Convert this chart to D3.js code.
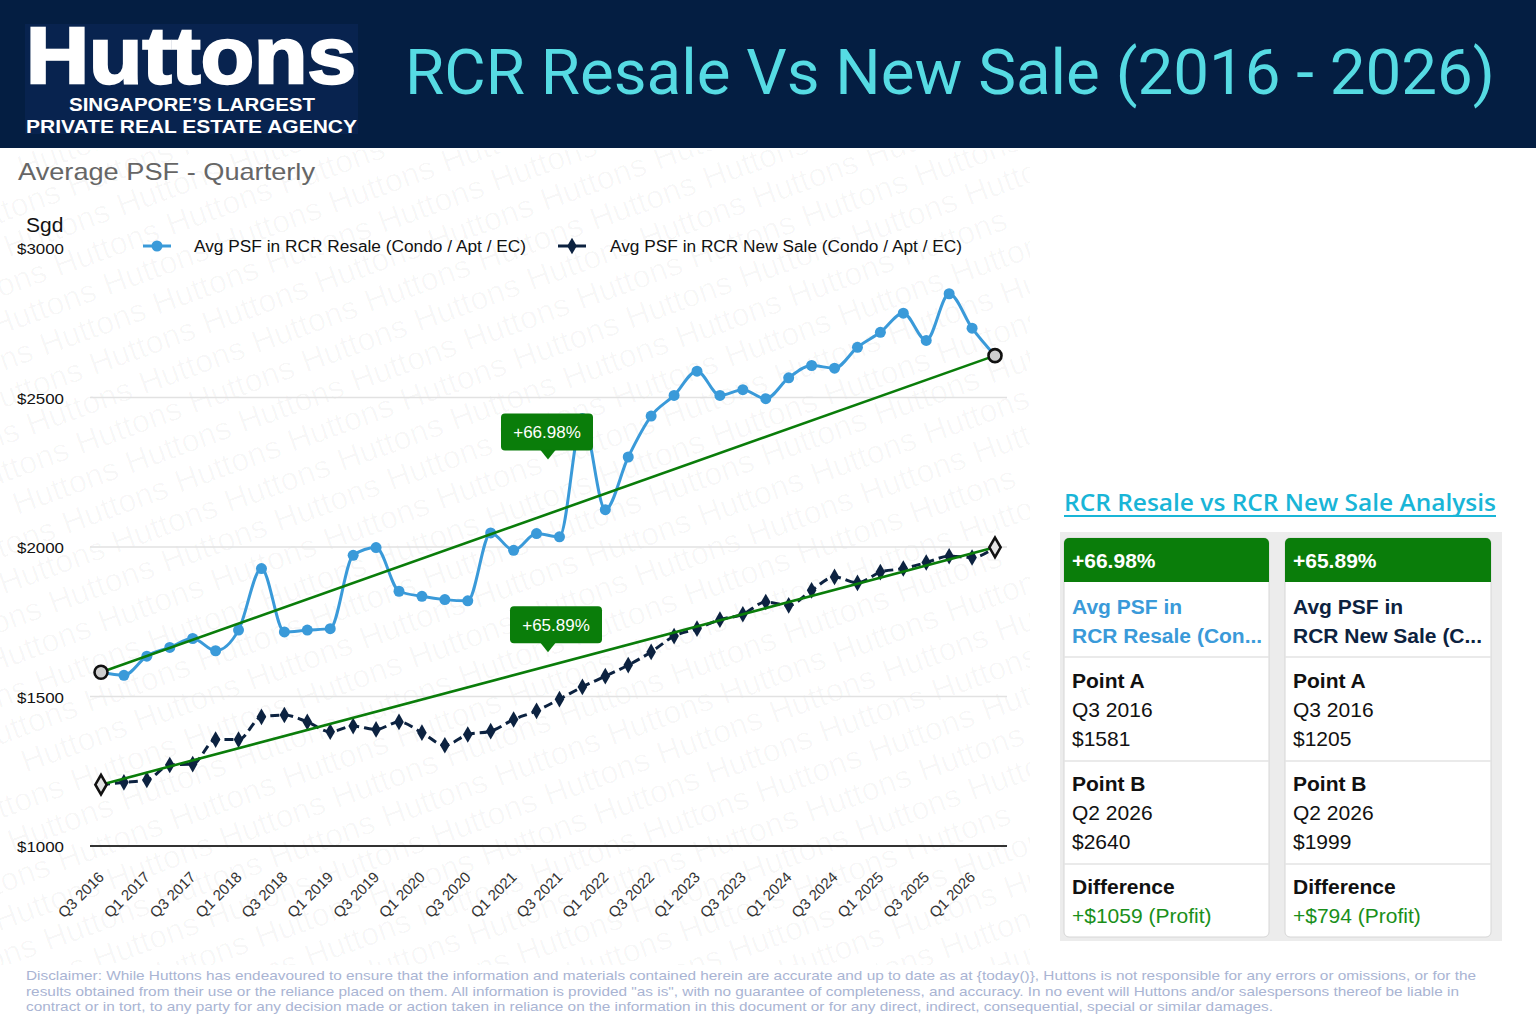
<!DOCTYPE html>
<html>
<head>
<meta charset="utf-8">
<script src="https://cdn.jsdelivr.net/npm/d3@7"></script>
<style>
  body { margin: 0; background: #fff; }
  svg { display: block; }
</style>
</head>
<body>
<svg id="chart" width="1536" height="1024"></svg>
<script>
// données du graphique
const quarters = [
  "Q3 2016","Q4 2016","Q1 2017","Q2 2017","Q3 2017","Q4 2017","Q1 2018","Q2 2018",
  "Q3 2018","Q4 2018","Q1 2019","Q2 2019","Q3 2019","Q4 2019","Q1 2020","Q2 2020",
  "Q3 2020","Q4 2020","Q1 2021","Q2 2021","Q3 2021","Q4 2021","Q1 2022","Q2 2022",
  "Q3 2022","Q4 2022","Q1 2023","Q2 2023","Q3 2023","Q4 2023","Q1 2024","Q2 2024",
  "Q3 2024","Q4 2024","Q1 2025","Q2 2025","Q3 2025","Q4 2025","Q1 2026","Q2 2026"
];
const tickLabels = [
  "Q3 2016","Q1 2017","Q3 2017","Q1 2018","Q3 2018","Q1 2019","Q3 2019","Q1 2020",
  "Q3 2020","Q1 2021","Q3 2021","Q1 2022","Q3 2022","Q1 2023","Q3 2023","Q1 2024",
  "Q3 2024","Q1 2025","Q3 2025","Q1 2026"
];
const resale = [
  1581,1571,1635,1664,1694,1653,1722,1928,1716,1722,1727,1972,1998,1852,1835,1824,
  1820,2047,1989,2045,2034,2430,2125,2301,2438,2507,2588,2507,2526,2496,2566,2607,
  2598,2668,2718,2782,2691,2847,2732,2640
];
const newSale = [
  1205,1213,1221,1271,1274,1356,1356,1432,1438,1415,1382,1401,1390,1415,1379,1337,
  1373,1384,1423,1452,1491,1532,1568,1605,1649,1702,1727,1757,1775,1816,1805,1855,
  1900,1880,1916,1928,1948,1969,1965,1999
];
const yTicks = [1000, 1500, 2000, 2500, 3000];
const seriesNames = [
  "Avg PSF in RCR Resale (Condo / Apt / EC)",
  "Avg PSF in RCR New Sale (Condo / Apt / EC)"
];
const cardTitles = [["Avg PSF in", "RCR Resale (Con..."], ["Avg PSF in", "RCR New Sale (C..."]];

const disclaimer = [
  "Disclaimer: While Huttons has endeavoured to ensure that the information and materials contained herein are accurate and up to date as at {today()}, Huttons is not responsible for any errors or omissions, or for the",
  "results obtained from their use or the reliance placed on them. All information is provided \"as is\", with no guarantee of completeness, and accuracy. In no event will Huttons and/or salespersons thereof be liable in",
  "contract or in tort, to any party for any decision made or action taken in reliance on the information in this document or for any direct, indirect, consequential, special or similar damages."
];

// couleurs
const cResale = "#3a9ad9";
const cNew = "#0c2240";
const cGreen = "#0a7d0a";
const font = "'Liberation Sans', Arial, Helvetica, sans-serif";

const svg = d3.select("#chart");

// ajuste un texte à une largeur donnée
function fit(sel, w) {
  sel.attr("textLength", w).attr("lengthAdjust", "spacingAndGlyphs");
  return sel;
}

svg.append("rect").attr("width", 1536).attr("height", 1024).attr("fill", "#fff");

// filigrane "Huttons" (on ne garde que les mots qui touchent la zone visible)
const zone = { x0: 0, y0: 150, x1: 1030, y1: 965 };
const ang = -20 * Math.PI / 180;
function rot(px, py) {
  return [px * Math.cos(ang) - py * Math.sin(ang), px * Math.sin(ang) + py * Math.cos(ang)];
}
const clip = svg.append("clipPath").attr("id", "wm");
clip.append("rect").attr("x", zone.x0).attr("y", zone.y0)
  .attr("width", zone.x1 - zone.x0).attr("height", zone.y1 - zone.y0);
const wm = svg.append("g").attr("clip-path", "url(#wm)")
  .append("g").attr("transform", "rotate(-20)");
for (let r = -10; r < 40; r++) {
  for (let c = -6; c < 14; c++) {
    const px = c * 120 + (r % 3) * 40;
    const py = r * 35;
    const pts = [rot(px, py - 24), rot(px + 112, py - 24), rot(px, py + 7), rot(px + 112, py + 7)];
    const xs = pts.map(function(p) { return p[0]; });
    const ys = pts.map(function(p) { return p[1]; });
    if (d3.max(xs) < zone.x0 + 25 || d3.min(xs) > zone.x1 - 25 ||
        d3.max(ys) < zone.y0 + 12 || d3.min(ys) > zone.y1 - 12) continue;
    wm.append("text")
      .attr("x", px)
      .attr("y", py)
      .attr("font-family", font)
      .attr("font-size", 32)
      .attr("fill", "#000")
      .attr("fill-opacity", 0.03)
      .text("Huttons");
  }
}

// bandeau d'en-tête
svg.append("rect").attr("width", 1536).attr("height", 148).attr("fill", "#041e42");
svg.append("rect").attr("x", 25).attr("y", 24).attr("width", 333).attr("height", 110).attr("fill", "#08234f");
fit(svg.append("text").attr("x", 26).attr("y", 83)
  .attr("font-family", font).attr("font-weight", "bold").attr("font-size", 80)
  .attr("fill", "#fff").attr("stroke", "#fff").attr("stroke-width", 2.5)
  .text("Huttons"), 330);
fit(svg.append("text").attr("x", 69).attr("y", 111)
  .attr("font-family", font).attr("font-weight", "bold").attr("font-size", 19)
  .attr("fill", "#fff").text("SINGAPORE\u2019S LARGEST"), 246);
fit(svg.append("text").attr("x", 26).attr("y", 133)
  .attr("font-family", font).attr("font-weight", "bold").attr("font-size", 19)
  .attr("fill", "#fff").text("PRIVATE REAL ESTATE AGENCY"), 331);
fit(svg.append("text").attr("x", 405).attr("y", 94)
  .attr("font-family", "Roboto, sans-serif").attr("font-size", 63)
  .attr("fill", "#56dbe3").text("RCR Resale Vs New Sale (2016 - 2026)"), 1090);

// sous-titre et unité
fit(svg.append("text").attr("x", 18).attr("y", 180)
  .attr("font-family", font).attr("font-size", 24).attr("fill", "#666")
  .text("Average PSF - Quarterly"), 297);
svg.append("text").attr("x", 26).attr("y", 232)
  .attr("font-family", font).attr("font-size", 21).attr("fill", "#111").text("Sgd");

// échelles
const x = d3.scalePoint().domain(d3.range(quarters.length)).range([101, 995]);
const y = d3.scaleLinear().domain([1000, 3000]).range([846, 248]);

// grille et axe y
const grid = svg.append("g");
yTicks.forEach(function(t) {
  if (t !== 3000) {
    grid.append("line")
      .attr("x1", 90).attr("x2", 1007)
      .attr("y1", y(t)).attr("y2", y(t))
      .attr("stroke", t === 1000 ? "#333" : "#e2e2e2")
      .attr("stroke-width", t === 1000 ? 2 : 1.5);
  }
  fit(grid.append("text").attr("x", 17).attr("y", y(t) + 6)
    .attr("font-family", font).attr("font-size", 15).attr("fill", "#111")
    .text("$" + t), 47);
});

// axe x (étiquettes inclinées)
const xAxis = svg.append("g");
tickLabels.forEach(function(lbl) {
  const i = quarters.indexOf(lbl);
  xAxis.append("text")
    .attr("transform", "translate(" + (x(i) + 4) + ",878) rotate(-45)")
    .attr("text-anchor", "end")
    .attr("font-family", font).attr("font-size", 15).attr("fill", "#333")
    .text(lbl);
});

// courbes
const line = d3.line()
  .x(function(d, i) { return x(i); })
  .y(function(d) { return y(d); })
  .curve(d3.curveMonotoneX);

svg.append("path").datum(resale)
  .attr("d", line).attr("fill", "none")
  .attr("stroke", cResale).attr("stroke-width", 3);
svg.append("path").datum(newSale)
  .attr("d", line).attr("fill", "none")
  .attr("stroke", cNew).attr("stroke-width", 3).attr("stroke-dasharray", "9,5");

svg.append("g").selectAll("circle").data(resale).join("circle")
  .attr("cx", function(d, i) { return x(i); })
  .attr("cy", function(d) { return y(d); })
  .attr("r", 5.5).attr("fill", cResale);

const diamond = d3.symbol().type(d3.symbolDiamond).size(80);
svg.append("g").selectAll("path").data(newSale).join("path")
  .attr("d", diamond)
  .attr("transform", function(d, i) { return "translate(" + x(i) + "," + y(d) + ")"; })
  .attr("fill", cNew);

// droites de tendance entre point A et point B
const last = quarters.length - 1;
[resale, newSale].forEach(function(s) {
  svg.append("line")
    .attr("x1", x(0)).attr("y1", y(s[0]))
    .attr("x2", x(last)).attr("y2", y(s[last]))
    .attr("stroke", cGreen).attr("stroke-width", 2.6);
});

// marqueurs des points A et B
[0, last].forEach(function(i) {
  svg.append("circle").attr("cx", x(i)).attr("cy", y(resale[i]))
    .attr("r", 6.5).attr("fill", "#cfcfcf").attr("stroke", "#111").attr("stroke-width", 2.6);
  svg.append("path").attr("d", d3.symbol().type(d3.symbolDiamond).size(110))
    .attr("transform", "translate(" + x(i) + "," + y(newSale[i]) + ")")
    .attr("fill", "#e4e4e4").attr("stroke", "#111").attr("stroke-width", 2.6);
});

// pourcentages
function pct(s) { return (s[last] - s[0]) / s[0] * 100; }
const pcts = [pct(resale), pct(newSale)];

// étiquettes vertes sur le graphique
const labelTips = [2293, 1648];
const labelShift = [-1, 8];
pcts.forEach(function(p, k) {
  const tx = (x(19) + x(20)) / 2;
  const ty = y(labelTips[k]);
  const cx = tx + labelShift[k];
  const g = svg.append("g");
  g.append("rect").attr("x", cx - 46).attr("y", ty - 46).attr("width", 92).attr("height", 37)
    .attr("rx", 4).attr("fill", cGreen);
  g.append("path")
    .attr("d", "M" + (tx - 8) + "," + (ty - 10) + "L" + tx + "," + ty + "L" + (tx + 8) + "," + (ty - 10) + "Z")
    .attr("fill", cGreen);
  g.append("text").attr("x", cx).attr("y", ty - 21).attr("text-anchor", "middle")
    .attr("font-family", font).attr("font-size", 17).attr("fill", "#fff")
    .text("+" + p.toFixed(2) + "%");
});

// légende
const leg = svg.append("g");
[[143, 194, 332], [558, 610, 352]].forEach(function(pos, k) {
  leg.append("line").attr("x1", pos[0]).attr("x2", pos[0] + 28)
    .attr("y1", 246).attr("y2", 246)
    .attr("stroke", k === 0 ? cResale : cNew).attr("stroke-width", 3);
  if (k === 0) {
    leg.append("circle").attr("cx", pos[0] + 14).attr("cy", 246).attr("r", 5.5).attr("fill", cResale);
  } else {
    leg.append("path").attr("d", diamond)
      .attr("transform", "translate(" + (pos[0] + 14) + ",246)").attr("fill", cNew);
  }
  fit(leg.append("text").attr("x", pos[1]).attr("y", 252)
    .attr("font-family", font).attr("font-size", 16).attr("fill", "#111")
    .text(seriesNames[k]), pos[2]);
});

// panneau d'analyse à droite
const panel = svg.append("g");
fit(panel.append("text").attr("x", 1064).attr("y", 511)
  .attr("font-family", "'Open Sans', 'Noto Sans', sans-serif").attr("font-weight", 600)
  .attr("font-size", 24).attr("fill", "#19b5d7")
  .text("RCR Resale vs RCR New Sale Analysis"), 432);
panel.append("rect").attr("x", 1064).attr("y", 515).attr("width", 432).attr("height", 2).attr("fill", "#19b5d7");

panel.append("rect").attr("x", 1060).attr("y", 532).attr("width", 442).attr("height", 409).attr("fill", "#ececec");

const series = [resale, newSale];
const cardX = [1064, 1285];
const cardW = [205, 206];
series.forEach(function(s, k) {
  const cx = cardX[k];
  const w = cardW[k];
  const g = panel.append("g");
  g.append("rect").attr("x", cx).attr("y", 538).attr("width", w).attr("height", 399)
    .attr("rx", 5).attr("fill", "#fff").attr("stroke", "#d6d6d6");
  g.append("path")
    .attr("d", "M" + cx + ",582V543a5,5 0 0 1 5,-5H" + (cx + w - 5) + "a5,5 0 0 1 5,5V582Z")
    .attr("fill", cGreen);
  [657, 761, 864].forEach(function(yy) {
    g.append("line").attr("x1", cx).attr("x2", cx + w).attr("y1", yy).attr("y2", yy)
      .attr("stroke", "#e3e3e3").attr("stroke-width", 1.5);
  });
  const tx = cx + 8;
  function txt(yy, str, weight, color) {
    return g.append("text").attr("x", tx).attr("y", yy)
      .attr("font-family", font).attr("font-size", 21)
      .attr("font-weight", weight).attr("fill", color).text(str);
  }
  txt(568, "+" + pcts[k].toFixed(2) + "%", "bold", "#fff");
  txt(614, cardTitles[k][0], "bold", k === 0 ? cResale : cNew);
  txt(643, cardTitles[k][1], "bold", k === 0 ? cResale : cNew);
  txt(688, "Point A", "bold", "#111");
  txt(717, quarters[0], "normal", "#111");
  txt(746, "$" + s[0], "normal", "#111");
  txt(791, "Point B", "bold", "#111");
  txt(820, quarters[last], "normal", "#111");
  txt(849, "$" + s[last], "normal", "#111");
  txt(894, "Difference", "bold", "#111");
  txt(923, "+$" + (s[last] - s[0]) + " (Profit)", "normal", "#1a8f1a");
});

// avertissement
const discW = [1450, 1433, 1247];
disclaimer.forEach(function(l, i) {
  fit(svg.append("text").attr("x", 26).attr("y", 980 + i * 15.7)
    .attr("font-family", font).attr("font-size", 13.5).attr("fill", "#a9b4d3")
    .text(l), discW[i]);
});
</script>
</body>
</html>
